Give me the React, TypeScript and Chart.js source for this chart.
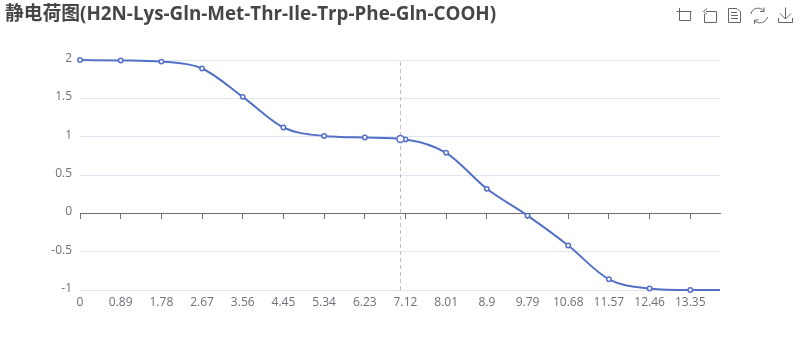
import React, { useEffect, useRef } from "react";
import { Chart, registerables } from "chart.js";

Chart.register(...registerables);

const titleText = "静电荷图(H2N-Lys-Gln-Met-Thr-Ile-Trp-Phe-Gln-COOH)";
const xTicks = [0, 0.89, 1.78, 2.67, 3.56, 4.45, 5.34, 6.23, 7.12, 8.01, 8.9, 9.79, 10.68, 11.57, 12.46, 13.35];
const xEnd = 14;
const charge = [2, 1.995, 1.98, 1.89, 1.52, 1.12, 1.01, 0.99, 0.965, 0.79, 0.32, -0.03, -0.42, -0.86, -0.98, -1.0];
const chargeEnd = -1.0;
const pointerX = 7.01;
const pointerY = 0.97;
const yMin = -1;
const yMax = 2;

const FONT = '"Open Sans", "Noto Sans CJK SC", sans-serif';
const AXIS = "#6E7079";
const BLUE = "#5470C6";

export default function App() {
  const ref = useRef<HTMLCanvasElement>(null);
  useEffect(() => {
    const useTicks = (s: any) => {
      s.ticks = xTicks.map((v) => ({ value: v }));
    };
    const linePoints = xTicks.map((x, i) => ({ x, y: charge[i] }));
    linePoints.push({ x: xEnd, y: chargeEnd });
    const chart = new Chart(ref.current!, {
      type: "line",
      data: {
        datasets: [
          {
            data: [{ x: pointerX, y: yMin }, { x: pointerX, y: yMax }],
            borderColor: "#B9BEC9",
            borderWidth: 1,
            borderDash: [4, 3],
            pointRadius: 0,
            order: 3,
          },
          {
            data: linePoints,
            borderColor: BLUE,
            borderWidth: 2,
            cubicInterpolationMode: "monotone",
            pointRadius: (c: any) => (c.dataIndex < xTicks.length ? 2.2 : 0),
            pointBorderWidth: 1.5,
            pointBackgroundColor: "#fff",
            pointBorderColor: BLUE,
            clip: false,
            order: 2,
          },
          {
            data: [{ x: pointerX, y: pointerY }],
            borderColor: BLUE,
            pointRadius: 3.5,
            pointBorderWidth: 1.5,
            pointBackgroundColor: "#fff",
            pointBorderColor: BLUE,
            showLine: false,
            clip: false,
            order: 1,
          },
        ],
      },
      options: {
        animation: false,
        responsive: false,
        events: [],
        layout: { padding: { left: 5, right: 80, top: 0, bottom: 0 } },
        plugins: {
          legend: { display: false },
          tooltip: { enabled: false },
          title: {
            display: true,
            text: titleText,
            align: "start",
            color: "#464646",
            font: { family: FONT, size: 18.8, weight: "bold" },
            padding: { top: 3, bottom: 34.5 },
          },
        },
        scales: {
          x: {
            type: "linear",
            min: 0,
            max: xEnd,
            afterBuildTicks: useTicks,
            afterFit: (s: any) => {
              s.height = 70;
            },
            grid: { display: false, drawTicks: false },
            border: { display: false },
            ticks: {
              autoSkip: false,
              maxRotation: 0,
              color: AXIS,
              font: { family: FONT, size: 12 },
              padding: 5,
              callback: (v: any) => String(v),
            },
          },
          zeroAxis: {
            type: "linear",
            axis: "x",
            position: { y: 0 },
            min: 0,
            max: xEnd,
            afterBuildTicks: useTicks,
            grid: { drawOnChartArea: false, drawTicks: true, tickLength: 5, color: AXIS },
            border: { display: true, color: AXIS, width: 1 },
            ticks: { display: false },
          },
          y: {
            min: yMin,
            max: yMax,
            afterFit: (s: any) => {
              s.width = 75;
            },
            border: { display: false },
            grid: { color: "#E0E6F1", drawTicks: false },
            ticks: {
              stepSize: 0.5,
              color: AXIS,
              font: { family: FONT, size: 12 },
              padding: 8,
              labelOffset: -1.5,
              callback: (v: any) => String(v),
            },
          },
        },
      },
    } as any);
    return () => chart.destroy();
  }, []);
  const stroke = { fill: "none", stroke: "#666", strokeWidth: 1 };
  return (
    <div style={{ position: "fixed", left: 0, top: 0, width: 800, height: 360, background: "#fff" }}>
      <canvas ref={ref} width={800} height={360} style={{ display: "block" }} />
      <svg width={800} height={30} style={{ position: "absolute", left: 0, top: 0 }}>
        <path {...stroke} d="M676.5 11.5H691.5M679.5 8V20.5H690.5V11.5M676 20.5" />
        <path {...stroke} d="M706 11.5H716.5V22.5H704.5V14M707 8.5L703.5 11.5L707 14.5" />
        <path {...stroke} d="M728.5 8.5H737L740.5 12V22.5H728.5ZM731 12.5H737M731 15.5H738M731 18.5H738" />
        <path {...stroke} d="M764 11C760 6 752 8 751 14M754 20C758 25 766 23 767.5 17M764 7.5V11.5H760M754.5 24V20H758.5" />
        <path {...stroke} d="M785.5 7.5V19M780 13.5L785.5 19L791 13.5M778.5 18V22.5H792.5V18" />
      </svg>
    </div>
  );
}
